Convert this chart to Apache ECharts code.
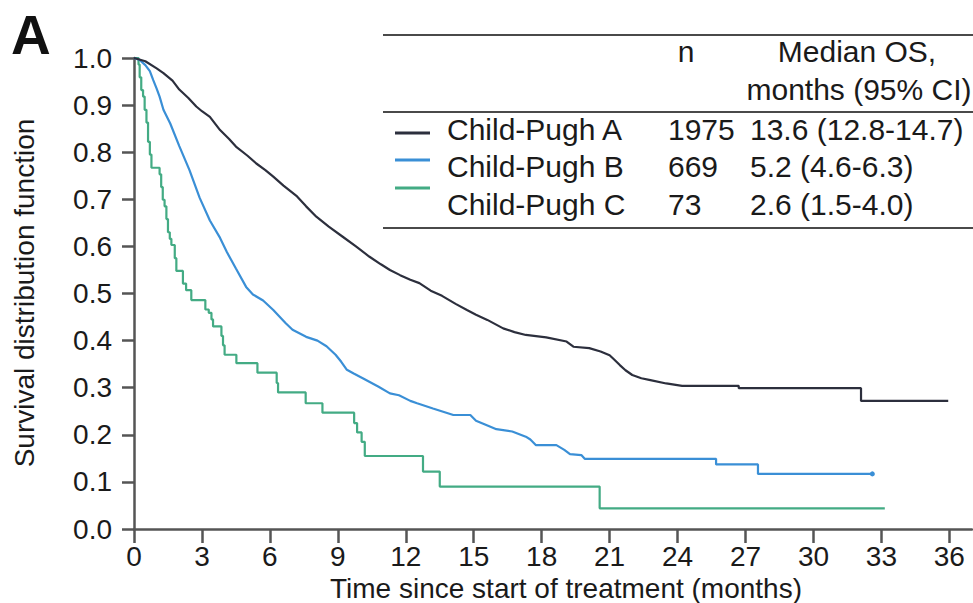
<!DOCTYPE html>
<html>
<head>
<meta charset="utf-8">
<script src="https://cdn.jsdelivr.net/npm/echarts@6/dist/echarts.min.js"></script>
<style>
  html, body { margin: 0; padding: 0; background: #fff; }
  #chart { width: 973px; height: 603px; }
</style>
</head>
<body>
<div id="chart"></div>
<script>
// Kaplan-Meier overall survival by Child-Pugh class
const groups = ['Child-Pugh A', 'Child-Pugh B', 'Child-Pugh C'];
const counts = ['1975', '669', '73'];
const medians = ['13.6 (12.8-14.7)', '5.2 (4.6-6.3)', '2.6 (1.5-4.0)'];

const monthTicks = [0, 3, 6, 9, 12, 15, 18, 21, 24, 27, 30, 33, 36];

// Child-Pugh A (months, survival)
const timeA = [0, 0.5, 1.0, 1.3, 1.7, 2.0, 2.4, 2.75, 3.0, 3.35, 3.8, 4.2, 4.5, 5.0, 5.4, 5.8, 6.15, 6.6, 7.2, 7.6,
  8.05, 8.6, 9.2, 9.8, 10.4, 10.9, 11.3, 11.75, 12.2, 12.6, 13.1, 13.6, 14.2, 14.7, 15.1, 15.6, 16.3, 16.8, 17.3,
  18.2, 19.1, 19.4, 20.1, 20.6, 21.0, 21.2, 21.45, 21.7, 22.0, 22.4, 22.8, 23.5, 24.2, 26.7, 26.7, 32.1, 32.1, 35.95];
const survA = [1.0, 0.993, 0.978, 0.968, 0.952, 0.933, 0.915, 0.897, 0.887, 0.875, 0.847, 0.828, 0.812, 0.793, 0.776,
  0.762, 0.748, 0.729, 0.706, 0.685, 0.663, 0.642, 0.621, 0.600, 0.578, 0.562, 0.550, 0.539, 0.529, 0.522, 0.506,
  0.495, 0.478, 0.465, 0.455, 0.444, 0.426, 0.418, 0.412, 0.407, 0.398, 0.387, 0.384, 0.377, 0.369, 0.360, 0.348,
  0.337, 0.327, 0.320, 0.316, 0.309, 0.304, 0.304, 0.299, 0.299, 0.272, 0.272];

// Child-Pugh B
const timeB = [0, 0.25, 0.5, 0.7, 0.85, 1.0, 1.13, 1.3, 1.6, 2.0, 2.45, 2.9, 3.35, 3.8, 4.1, 4.5, 4.95, 5.25, 5.7,
  6.15, 6.7, 7.0, 7.6, 8.1, 8.5, 8.9, 9.15, 9.4, 9.7, 10.1, 10.8, 11.3, 11.7, 12.2, 12.5, 13.2, 14.1, 14.85, 15.1,
  15.5, 16.0, 16.7, 17.3, 17.5, 17.75, 18.65, 19.0, 19.25, 19.75, 19.9, 25.7, 25.7, 27.55, 27.55, 32.6];
const survB = [1.0, 0.996, 0.985, 0.972, 0.953, 0.935, 0.918, 0.89, 0.861, 0.813, 0.762, 0.703, 0.655, 0.618, 0.588,
  0.553, 0.514, 0.498, 0.485, 0.465, 0.437, 0.423, 0.408, 0.400, 0.388, 0.370, 0.355, 0.338, 0.330, 0.320, 0.302,
  0.288, 0.284, 0.272, 0.267, 0.256, 0.242, 0.242, 0.230, 0.222, 0.212, 0.207, 0.196, 0.190, 0.178, 0.178, 0.168,
  0.159, 0.157, 0.149, 0.149, 0.137, 0.137, 0.117, 0.117];

// Child-Pugh C (step function: value after each event)
const timeC = [0, 0.2, 0.25, 0.32, 0.4, 0.47, 0.55, 0.62, 0.7, 0.77, 1.13, 1.2, 1.27, 1.35, 1.43, 1.5, 1.58, 1.65,
  1.8, 1.87, 2.16, 2.3, 2.53, 3.15, 3.3, 3.42, 3.49, 3.86, 3.93, 4.0, 4.52, 5.45, 6.3, 6.36, 7.58, 8.32, 9.72,
  9.85, 10.05, 10.19, 12.76, 13.5, 20.56, 33.15];
const survC = [1.0, 0.986, 0.959, 0.932, 0.918, 0.89, 0.863, 0.822, 0.795, 0.767, 0.753, 0.726, 0.699, 0.685, 0.658,
  0.63, 0.616, 0.603, 0.575, 0.548, 0.521, 0.507, 0.486, 0.466, 0.459, 0.445, 0.43, 0.41, 0.39, 0.37, 0.352, 0.332,
  0.31, 0.29, 0.267, 0.247, 0.225, 0.205, 0.185, 0.155, 0.122, 0.09, 0.044, 0.044];

const colors = ['#2c2f3d', '#3a8fd6', '#43ab84'];
const FONT = '"Liberation Sans", Arial, Helvetica, sans-serif';
const INK = '#1a1a1a';
const AXIS = '#555555';

const pairs = (t, s) => t.map((v, i) => [v, s[i]]);
const dataA = pairs(timeA, survA);
const dataB = pairs(timeB, survB);
// censored mark at the last follow-up of group B
dataB[dataB.length - 1] = { value: dataB[dataB.length - 1], symbol: 'circle', symbolSize: 5 };
const dataC = pairs(timeC, survC);

// Legend table on the upper right
const tableLeft = 383, tableRight = 973;
const rowY = [129, 166, 204];
const swatchY = [133, 160, 188];
const txt = (text, x, y, align, size, weight) => ({
  type: 'text', x, y,
  style: { text, fill: INK, font: (weight || 'normal') + ' ' + size + 'px ' + FONT, align: align, verticalAlign: 'middle' }
});
const hline = (y) => ({
  type: 'line', shape: { x1: tableLeft, y1: y, x2: tableRight, y2: y },
  style: { stroke: '#4a4a4a', lineWidth: 2 }
});

const graphics = [
  { type: 'text', x: 11, y: 7, style: { text: 'A', fill: '#111', font: 'bold 55px ' + FONT, align: 'left', verticalAlign: 'top' } },
  hline(35), hline(112), hline(228),
  txt('n', 686, 51, 'center', 30),
  txt('Median OS,', 857, 51, 'center', 30),
  txt('months (95% CI)', 859, 89, 'center', 30),
  {
    type: 'text', x: 24, y: 293, rotation: Math.PI / 2,
    style: { text: 'Survival distribution function', fill: INK, font: '28px ' + FONT, align: 'center', verticalAlign: 'middle' }
  },
  txt('Time since start of treatment (months)', 566, 588, 'center', 28)
];
groups.forEach((g, i) => {
  graphics.push({
    type: 'line', shape: { x1: 395, y1: swatchY[i], x2: 430, y2: swatchY[i] },
    style: { stroke: colors[i], lineWidth: 3 }
  });
  graphics.push(txt(g, 447, rowY[i], 'left', 30));
  graphics.push(txt(counts[i], 668, rowY[i], 'left', 30));
  graphics.push(txt(medians[i], 750, rowY[i], 'left', 30));
});

const chart = echarts.init(document.getElementById('chart'), null, { renderer: 'svg' });
chart.setOption({
  animation: false,
  backgroundColor: '#fff',
  grid: { left: 134, top: 58, width: 838, height: 471, containLabel: false },
  xAxis: {
    type: 'value', min: 0, max: 37, interval: 3,
    axisLine: { show: true, lineStyle: { color: AXIS, width: 2.5 } },
    axisTick: { show: true, length: 14, customValues: monthTicks, lineStyle: { color: AXIS, width: 2.5 } },
    axisLabel: { customValues: monthTicks, margin: 13, color: INK, fontSize: 28, fontFamily: FONT },
    splitLine: { show: false }
  },
  yAxis: {
    type: 'value', min: 0, max: 1, interval: 0.1,
    axisLine: { show: true, lineStyle: { color: AXIS, width: 2.5 } },
    axisTick: { show: true, length: 12, lineStyle: { color: AXIS, width: 2.5 } },
    axisLabel: { margin: 22, color: INK, fontSize: 28, fontFamily: FONT, formatter: v => v.toFixed(1) },
    splitLine: { show: false }
  },
  series: [
    { name: groups[2], type: 'line', step: 'end', data: dataC, symbol: 'none', lineStyle: { color: colors[2], width: 2.2 }, z: 2 },
    { name: groups[1], type: 'line', data: dataB, symbol: 'none', showSymbol: true, itemStyle: { color: colors[1] }, lineStyle: { color: colors[1], width: 2.2 }, z: 3 },
    { name: groups[0], type: 'line', data: dataA, symbol: 'none', lineStyle: { color: colors[0], width: 2.2 }, z: 4 }
  ],
  graphic: graphics
});
</script>
</body>
</html>
